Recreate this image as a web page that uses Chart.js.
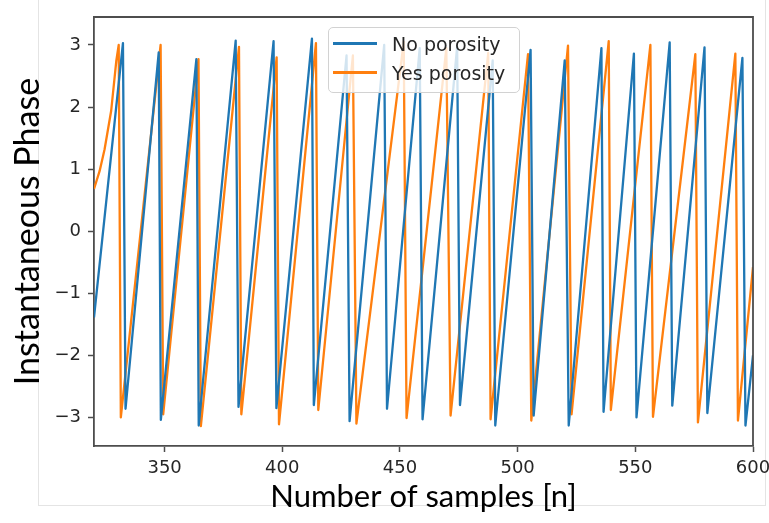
<!DOCTYPE html>
<html>
<head>
<meta charset="utf-8">
<script src="https://cdn.jsdelivr.net/npm/chart.js@4.4.1/dist/chart.umd.min.js"></script>
<style>
  html, body { margin: 0; padding: 0; background: #fff; }
  #wrap { position: relative; width: 769px; height: 523px; }
  #frame {
    position: absolute; left: 38px; top: 0; width: 726px; height: 505px;
    border-left: 1px solid #e4e4e4; border-bottom: 1px solid #e4e4e4; border-right: 1px solid #e4e4e4;
  }
  #phaseChart { position: absolute; left: 0; top: 0; }
  #legend {
    position: absolute; left: 328px; top: 27px; width: 190px; height: 63px;
    border: 1px solid #d2d2d2; border-radius: 5px; background: rgba(255, 255, 255, 0.8);
    font: 19px 'DejaVu Sans', sans-serif; color: #262626; padding-top: 1px; box-sizing: content-box;
  }
  #legend .row { display: flex; align-items: center; height: 29px; }
  #legend .swatch { display: inline-block; width: 44px; height: 2.5px; margin-left: 4px; margin-right: 15px; }
</style>
</head>
<body>
<div id="wrap">
  <div id="frame"></div>
  <canvas id="phaseChart" width="769" height="523"></canvas>
  <div id="legend"></div>
</div>
<script>
const xTicks = [350, 400, 450, 500, 550, 600];
const yTicks = [-3, -2, -1, 0, 1, 2, 3];

// corners of the wrapped phase (peaks and drops)
const noPorosityN = [320, 332.3, 333.4, 347.5, 348.4, 363.5, 364.5, 380.2, 381.4, 396.3, 397.5,
  412.6, 413.4, 427.3, 428.6, 443.3, 444.5, 458.4, 459.6, 474.3, 475.5, 489.4, 490.5,
  505.5, 506.8, 520.0, 521.7, 535.6, 536.5, 549.4, 550.5, 564.6, 565.7, 579.4, 580.6,
  595.5, 596.8, 600];
const noPorosityPhase = [-1.39, 3.03, -2.86, 2.88, -3.04, 2.77, -3.13, 3.07, -2.83, 3.06, -2.85,
  3.10, -2.80, 2.83, -3.06, 3.00, -2.86, 2.95, -3.03, 2.97, -2.80, 2.75, -3.13,
  2.92, -2.97, 2.75, -3.13, 2.95, -2.91, 2.86, -3.00, 3.04, -2.81, 2.96, -2.93,
  2.79, -3.13, -2.0];

const yesPorosityN = [320, 322.4, 324.5, 327.3, 329.5, 330.5, 331.4, 348.3, 349.4, 364.4, 365.4,
  381.6, 382.6, 397.6, 398.6, 414.3, 415.3, 430.0, 431.5, 451.6, 452.8, 469.7, 471.5,
  487.5, 488.5, 504.4, 505.8, 521.4, 522.9, 538.7, 539.6, 556.4, 557.5, 575.5, 576.6,
  592.5, 593.6, 600];
const yesPorosityPhase = [0.68, 0.97, 1.32, 1.94, 2.75, 3.00, -3.00, 3.00, -2.95, 2.77, -3.14,
  2.97, -2.95, 2.80, -3.11, 3.03, -2.88, 2.83, -3.10, 3.05, -3.01, 2.95, -2.97,
  2.87, -3.03, 2.85, -3.05, 2.99, -2.95, 3.06, -2.88, 3.00, -2.99, 2.85, -3.08,
  2.86, -3.05, -0.58];

function toPoints(ns, ys) {
  return ns.map((n, i) => ({ x: n, y: ys[i] }));
}

function fmtTick(v) {
  return String(v).replace('-', '\u2212');
}

const axisColor = '#4d4d4d';
const tickFont = { family: 'DejaVu Sans', size: 18 };

// top and right spines
const frameLines = {
  id: 'frameLines',
  afterDraw(chart) {
    const { ctx, chartArea: a } = chart;
    ctx.save();
    ctx.strokeStyle = axisColor;
    ctx.lineWidth = 1.8;
    ctx.beginPath();
    ctx.moveTo(a.left, a.top);
    ctx.lineTo(a.right, a.top);
    ctx.lineTo(a.right, a.bottom);
    ctx.stroke();
    ctx.restore();
  },
};

function buildLegend(chart) {
  const box = document.getElementById('legend');
  box.innerHTML = '';
  chart.data.datasets.forEach((ds) => {
    const row = document.createElement('div');
    row.className = 'row';
    const swatch = document.createElement('span');
    swatch.className = 'swatch';
    swatch.style.background = ds.borderColor;
    const label = document.createElement('span');
    label.textContent = ds.label;
    row.append(swatch, label);
    box.appendChild(row);
  });
}

const ctx = document.getElementById('phaseChart').getContext('2d');
const phaseChart = new Chart(ctx, {
  type: 'line',
  data: {
    datasets: [
      {
        label: 'No porosity',
        data: toPoints(noPorosityN, noPorosityPhase),
        borderColor: '#1f77b4',
        borderWidth: 2.3,
        fill: false,
      },
      {
        label: 'Yes porosity',
        data: toPoints(yesPorosityN, yesPorosityPhase),
        borderColor: '#ff7f0e',
        borderWidth: 2.3,
        fill: false,
      },
    ],
  },
  options: {
    responsive: false,
    animation: false,
    layout: { padding: { top: 17, right: 16, left: 0, bottom: 0 } },
    plugins: {
      legend: { display: false },
      tooltip: { enabled: false },
    },
    elements: {
      point: { radius: 0 },
      line: { tension: 0, borderJoinStyle: 'round' },
    },
    scales: {
      x: {
        type: 'linear',
        min: 320,
        max: 600,
        afterBuildTicks: (s) => { s.ticks = xTicks.map((v) => ({ value: v })); },
        afterFit: (s) => { s.height = 77; s.paddingLeft = 0; s.paddingRight = 0; },
        grid: { drawOnChartArea: false, drawTicks: true, tickLength: 6, tickWidth: 1.5, tickColor: axisColor },
        border: { display: true, color: axisColor, width: 1.8 },
        ticks: { autoSkip: false, maxRotation: 0, padding: 6, color: '#262626', font: tickFont, callback: fmtTick },
        title: { display: true, text: 'Number of samples [n]', color: '#000', font: { family: 'Lato', size: 31 }, padding: { top: 0, bottom: 7 } },
      },
      y: {
        type: 'linear',
        min: -3.46,
        max: 3.45,
        afterBuildTicks: (s) => { s.ticks = yTicks.map((v) => ({ value: v })); },
        afterFit: (s) => { s.width = 94; s.paddingTop = 0; s.paddingBottom = 0; },
        grid: { drawOnChartArea: false, drawTicks: true, tickLength: 6, tickWidth: 1.5, tickColor: axisColor },
        border: { display: true, color: axisColor, width: 1.8 },
        ticks: { autoSkip: false, padding: 7, color: '#262626', font: tickFont, callback: fmtTick },
        title: { display: true, text: 'Instantaneous Phase', color: '#000', font: { family: 'Lato', size: 34 }, padding: { top: 8, bottom: 0 } },
      },
    },
  },
  plugins: [frameLines],
});

buildLegend(phaseChart);
</script>
</body>
</html>
